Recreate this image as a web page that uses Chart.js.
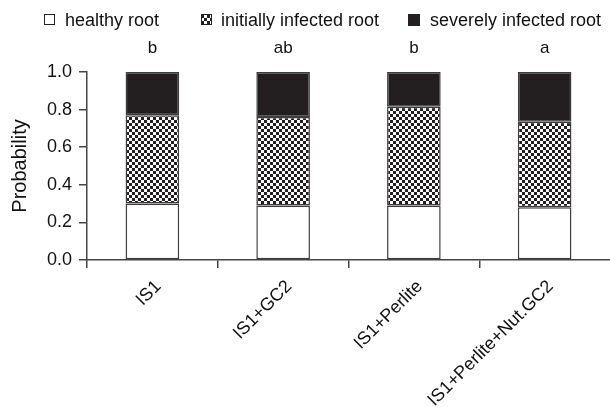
<!DOCTYPE html>
<html>
<head>
<meta charset="utf-8">
<script src="https://cdn.jsdelivr.net/npm/chart.js@4/dist/chart.umd.min.js"></script>
<style>
  html, body { margin: 0; padding: 0; background: #fff; }
  #wrap { width: 610px; height: 407px; }
</style>
</head>
<body>
<div id="wrap"><canvas id="c" width="610" height="407"></canvas></div>
<script>
// Treatments and root-condition probabilities (stacked to 1.0)
const categories = ['IS1', 'IS1+GC2', 'IS1+Perlite', 'IS1+Perlite+Nut.GC2'];
const healthyRoot = [0.30, 0.29, 0.29, 0.28];
const initiallyInfected = [0.47, 0.47, 0.525, 0.455];
const severelyInfected = [0.23, 0.24, 0.185, 0.265];
const groupLetters = ['b', 'ab', 'b', 'a'];
const seriesNames = ['healthy root', 'initially infected root', 'severely infected root'];
const yTicks = [0.0, 0.2, 0.4, 0.6, 0.8, 1.0];

const FONT = "'Liberation Sans', Arial, Helvetica, sans-serif";
const INK = '#231f20';
const EDGE = '#3d3d3d';
const AXIS = '#444444';

// Black/white checkerboard fill
function makeChecker(cell) {
  const pc = document.createElement('canvas');
  pc.width = cell * 2; pc.height = cell * 2;
  const g = pc.getContext('2d');
  g.fillStyle = '#ffffff';
  g.fillRect(0, 0, cell * 2, cell * 2);
  g.fillStyle = INK;
  g.fillRect(0, 0, cell, cell);
  g.fillRect(cell, cell, cell, cell);
  return g.createPattern(pc, 'repeat');
}
const ctx0 = document.getElementById('c').getContext('2d');
const checker = makeChecker(3);

// Legend row and significance letters
const annotations = {
  id: 'annotations',
  afterDraw(chart) {
    const ctx = chart.ctx;
    ctx.save();
    ctx.font = '18px ' + FONT;
    ctx.textBaseline = 'alphabetic';
    ctx.textAlign = 'left';
    const items = [
      { box: [44, 14, 11, 11], fill: '#ffffff', tx: 65 },
      { box: [201, 14, 11, 11], fill: checker, tx: 221 },
      { box: [408, 14, 12, 12], fill: INK, tx: 430 }
    ];
    items.forEach((it, i) => {
      const [x, y, w, h] = it.box;
      ctx.fillStyle = it.fill;
      ctx.fillRect(x, y, w, h);
      ctx.strokeStyle = '#222';
      ctx.lineWidth = 1;
      ctx.strokeRect(x + 0.5, y + 0.5, w - 1, h - 1);
      ctx.fillStyle = '#111';
      ctx.fillText(seriesNames[i], it.tx, 26);
    });
    const xs = chart.scales.x;
    ctx.textAlign = 'center';
    ctx.font = '17px ' + FONT;
    groupLetters.forEach((l, i) => {
      ctx.fillText(l, xs.getPixelForValue(i), 53);
    });
    ctx.restore();
  }
};

new Chart(ctx0, {
  type: 'bar',
  data: {
    labels: categories,
    datasets: [
      { label: seriesNames[0], data: healthyRoot, backgroundColor: '#ffffff' },
      { label: seriesNames[1], data: initiallyInfected, backgroundColor: checker },
      { label: seriesNames[2], data: severelyInfected, backgroundColor: INK }
    ].map(d => Object.assign(d, {
      borderColor: EDGE,
      borderWidth: 1.5,
      borderSkipped: false,
      barPercentage: 0.41,
      categoryPercentage: 1.0
    }))
  },
  plugins: [annotations],
  options: {
    responsive: false,
    animation: false,
    devicePixelRatio: 1,
    layout: { padding: { top: 72, right: 0, left: 0, bottom: 0 } },
    plugins: {
      legend: { display: false },
      tooltip: { enabled: false }
    },
    scales: {
      x: {
        stacked: true,
        offset: true,
        afterFit(s) { s.height = 147; },
        grid: {
          display: true,
          drawOnChartArea: false,
          offset: true,
          tickLength: 8,
          // no tick mark at the far right end of the axis
          color: c => (c.index >= categories.length || c.tick === undefined) ? 'rgba(0,0,0,0)' : AXIS,
          lineWidth: 1.5
        },
        border: { display: true, color: AXIS, width: 1.5 },
        ticks: {
          minRotation: 45,
          maxRotation: 45,
          autoSkip: false,
          padding: 8,
          labelOffset: 6,
          color: '#111',
          font: { family: FONT, size: 18 }
        }
      },
      y: {
        stacked: true,
        min: 0,
        max: 1,
        afterFit(s) { s.width = 87; },
        afterBuildTicks(s) { s.ticks = yTicks.map(v => ({ value: v })); },
        grid: {
          display: true,
          drawOnChartArea: false,
          tickLength: 8,
          color: AXIS,
          lineWidth: 1.5
        },
        border: { display: true, color: AXIS, width: 1.5 },
        ticks: {
          padding: 7,
          color: '#111',
          font: { family: FONT, size: 18 },
          callback: v => Number(v).toFixed(1)
        },
        title: {
          display: true,
          text: 'Probability',
          color: '#111',
          font: { family: FONT, size: 20 },
          padding: { top: 8, bottom: 0 }
        }
      }
    }
  }
});
</script>
</body>
</html>
